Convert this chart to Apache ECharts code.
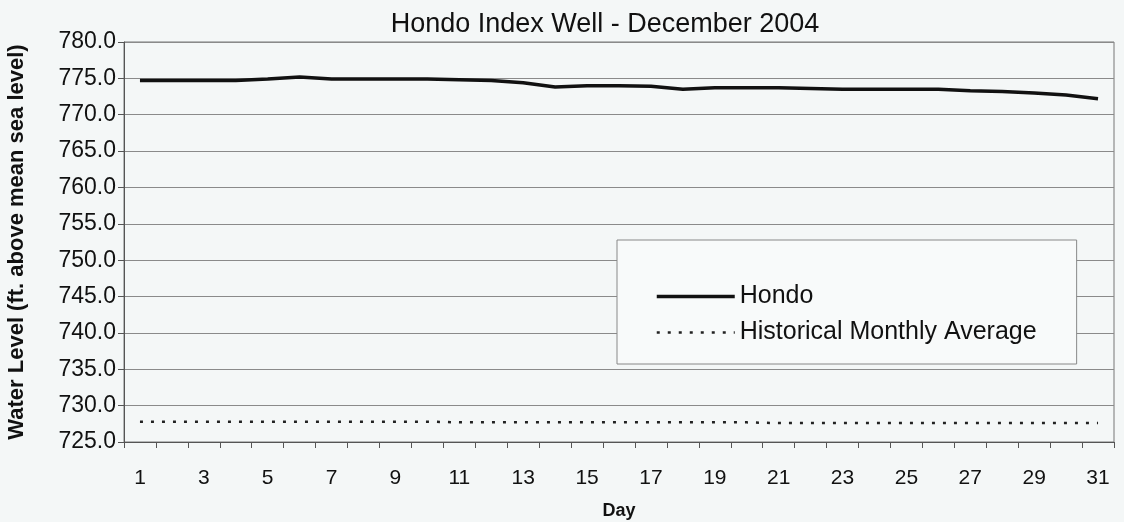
<!DOCTYPE html>
<html>
<head>
<meta charset="utf-8">
<title>Hondo Index Well - December 2004</title>
<script src="https://cdn.jsdelivr.net/npm/echarts@6/dist/echarts.min.js"></script>
<style>
  html, body { margin: 0; padding: 0; background: #f4f7f7; }
  #chart { width: 1124px; height: 522px; }
</style>
</head>
<body>
<div id="chart"></div>
<script>
// days of December 2004
const days = ["1", "2", "3", "4", "5", "6", "7", "8", "9", "10", "11", "12", "13", "14", "15", "16",
  "17", "18", "19", "20", "21", "22", "23", "24", "25", "26", "27", "28", "29", "30", "31"];

// water level, ft above mean sea level
const hondo = [774.7, 774.7, 774.7, 774.7, 774.9, 775.2, 774.9, 774.9, 774.9, 774.9, 774.8, 774.7,
  774.4, 773.8, 774.0, 774.0, 773.9, 773.5, 773.7, 773.7, 773.7, 773.6, 773.5, 773.5, 773.5,
  773.5, 773.3, 773.2, 773.0, 772.7, 772.2];

const histAvg = [727.8, 727.8, 727.8, 727.8, 727.8, 727.8, 727.8, 727.8, 727.8, 727.8, 727.7,
  727.7, 727.7, 727.7, 727.7, 727.7, 727.7, 727.7, 727.7, 727.7, 727.6, 727.6, 727.6, 727.6,
  727.6, 727.6, 727.6, 727.6, 727.6, 727.6, 727.6];

const font = "'Liberation Sans', Arial, sans-serif";

const chart = echarts.init(document.getElementById("chart"));
chart.setOption({
  backgroundColor: "#f4f7f7",
  animation: false,
  textStyle: { fontFamily: font, color: "#111" },
  title: {
    text: "Hondo Index Well - December 2004",
    left: 600,
    textAlign: "center",
    top: 6,
    textStyle: { fontFamily: font, fontSize: 27, fontWeight: "normal", color: "#111" }
  },
  grid: {
    left: 124, right: 10, top: 42, bottom: 80,
    outerBoundsMode: "none",
    show: true, borderColor: "#777", borderWidth: 1, backgroundColor: "transparent"
  },
  legend: {
    orient: "vertical",
    left: 617,
    top: 240,
    padding: [44, 40, 19, 38],
    itemGap: 11,
    itemWidth: 78,
    itemHeight: 14,
    itemStyle: { opacity: 0 },
    backgroundColor: "#f8fafa",
    borderColor: "#888",
    borderWidth: 1,
    textStyle: { fontFamily: font, fontSize: 25, color: "#111" },
    data: [
      { name: "Hondo", lineStyle: { width: 3.5 } },
      { name: "Historical Monthly Average", lineStyle: { width: 2.5 } }
    ]
  },
  xAxis: {
    type: "category",
    data: days,
    boundaryGap: true,
    name: "Day",
    nameLocation: "middle",
    nameGap: 60,
    nameTextStyle: { fontFamily: font, fontSize: 18, fontWeight: "bold", color: "#111" },
    axisLine: { lineStyle: { color: "#555", width: 1 } },
    axisTick: { show: true, interval: 0, length: 6, lineStyle: { color: "#555" } },
    axisLabel: { interval: 1, margin: 26, fontSize: 21, color: "#111", fontFamily: font },
    splitLine: { show: false }
  },
  yAxis: {
    type: "value",
    min: 725,
    max: 780,
    interval: 5,
    name: "Water Level (ft. above mean sea level)",
    nameLocation: "middle",
    nameRotate: 90,
    nameGap: 96,
    nameTextStyle: { fontFamily: font, fontSize: 22, fontWeight: "bold", color: "#111" },
    axisLine: { show: true, lineStyle: { color: "#555", width: 1 } },
    axisTick: { show: true, length: 6, lineStyle: { color: "#555" } },
    axisLabel: {
      margin: 8, fontSize: 23, color: "#111", fontFamily: font,
      formatter: function (v) { return v.toFixed(1); }
    },
    splitLine: { show: true, lineStyle: { color: "#8a8a8a", width: 1 } }
  },
  series: [
    {
      name: "Hondo",
      type: "line",
      data: hondo,
      symbol: "none",
      smooth: false,
      lineStyle: { color: "#111", width: 3.5 },
      itemStyle: { color: "#111" }
    },
    {
      name: "Historical Monthly Average",
      type: "line",
      data: histAvg,
      symbol: "none",
      lineStyle: { color: "#222", width: 2.5, type: [3, 8] },
      itemStyle: { color: "#222" }
    }
  ]
});
</script>
</body>
</html>
